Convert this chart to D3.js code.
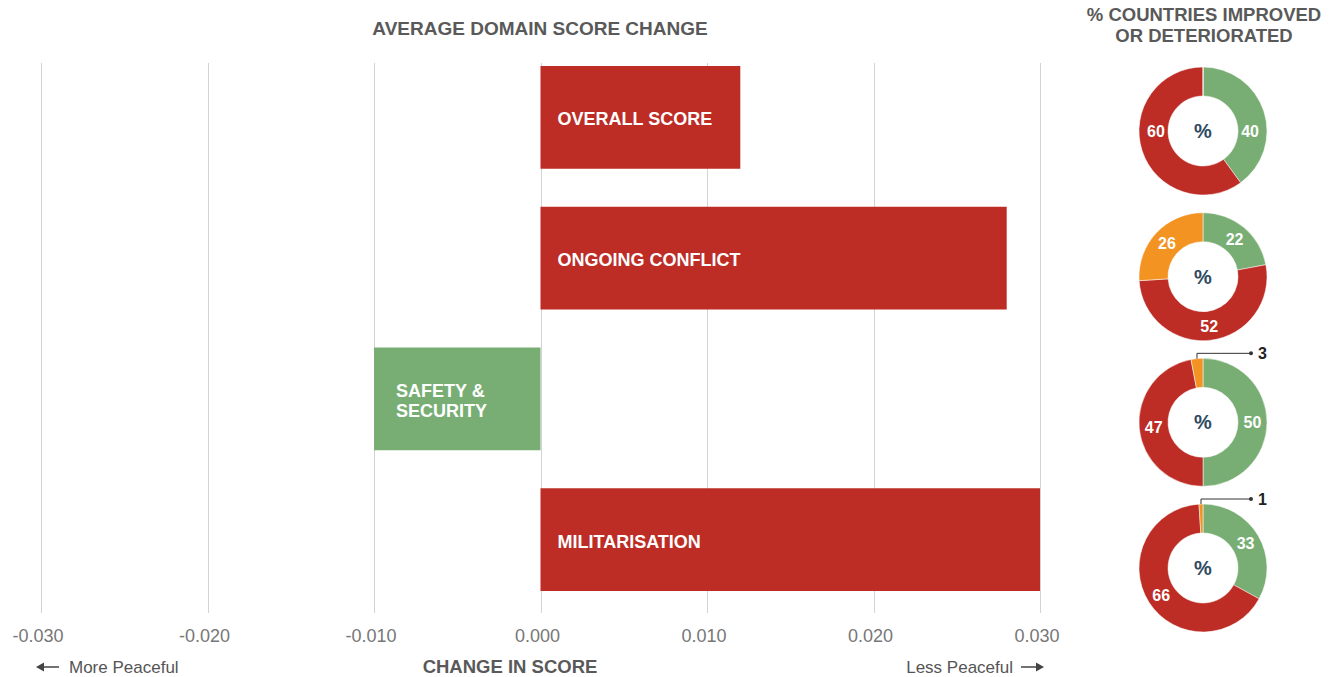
<!DOCTYPE html>
<html>
<head>
<meta charset="utf-8">
<script src="https://cdn.jsdelivr.net/npm/d3@7"></script>
<style>
	body { margin: 0; background: #fff; }
	svg { display: block; font-family: "Liberation Sans", Arial, sans-serif; }
</style>
</head>
<body>
<div id="viz"></div>
<script>
// domains, top to bottom
var domains = ['OVERALL SCORE', 'ONGOING CONFLICT', 'SAFETY & SECURITY', 'MILITARISATION'];
var domainLines = [['OVERALL SCORE'], ['ONGOING CONFLICT'], ['SAFETY &', 'SECURITY'], ['MILITARISATION']];
var scoreChange = [0.012, 0.028, -0.010, 0.030];

// % countries improved / deteriorated / no change
var improved = [40, 22, 50, 33];
var deteriorated = [60, 52, 47, 66];
var noChange = [0, 26, 3, 1];

var xTicks = [-0.03, -0.02, -0.01, 0, 0.01, 0.02, 0.03];

var w = 1334,
	h = 677,
	red = '#bd2c25',
	green = '#78ae74',
	orange = '#f39322',
	grey = '#595959';

var svg = d3.select('#viz')
	.append('svg')
	.attr('width', w)
	.attr('height', h);

var x = d3.scaleLinear().domain([-0.03, 0.03]).range([41, 1040]);
var y = d3.scaleBand().domain(domains).range([66, 591]).paddingInner(0.27);

// grid
svg.append('g')
	.selectAll('line')
	.data(xTicks)
	.enter().append('line')
	.attr('x1', function (d) { return Math.round(x(d)) + 0.5; })
	.attr('x2', function (d) { return Math.round(x(d)) + 0.5; })
	.attr('y1', 63)
	.attr('y2', 613)
	.style('stroke', '#d3d3d3')
	.style('stroke-width', 1);

// tick labels (plain hyphen, not unicode minus)
var fmt = d3.format('.3f');
svg.append('g')
	.selectAll('text')
	.data(xTicks)
	.enter().append('text')
	.attr('x', function (d) { return x(d) - 3; })
	.attr('y', 642)
	.attr('text-anchor', 'middle')
	.style('font-size', '18px')
	.style('fill', '#777')
	.text(function (d) { return fmt(d).replace('\u2212', '-'); });

// bars
var bars = svg.append('g')
	.selectAll('g')
	.data(domains)
	.enter().append('g');

bars.append('rect')
	.attr('x', function (d, i) { return x(Math.min(0, scoreChange[i])); })
	.attr('y', function (d) { return y(d); })
	.attr('width', function (d, i) { return Math.abs(x(scoreChange[i]) - x(0)); })
	.attr('height', y.bandwidth())
	.style('fill', function (d, i) { return scoreChange[i] < 0 ? green : red; });

bars.append('text')
	.attr('x', function (d, i) { return x(Math.min(0, scoreChange[i])) + (scoreChange[i] < 0 ? 22 : 17); })
	.attr('y', function (d, i) {
		return y(d) + y.bandwidth() / 2 + 8 - (domainLines[i].length - 1) * 10;
	})
	.style('fill', '#fff')
	.style('font-size', '18px')
	.style('font-weight', 'bold')
	.selectAll('tspan')
	.data(function (d, i) { return domainLines[i]; })
	.enter().append('tspan')
	.attr('x', function () { return d3.select(this.parentNode).attr('x'); })
	.attr('dy', function (d, i) { return i ? 20 : 0; })
	.text(String);

// titles
svg.append('text')
	.attr('x', 540)
	.attr('y', 35)
	.attr('text-anchor', 'middle')
	.style('font-size', '19px')
	.style('font-weight', 'bold')
	.style('fill', grey)
	.text('AVERAGE DOMAIN SCORE CHANGE');

svg.append('text')
	.attr('x', 1204)
	.attr('y', 21)
	.attr('text-anchor', 'middle')
	.style('font-size', '18.5px')
	.style('font-weight', 'bold')
	.style('fill', grey)
	.selectAll('tspan')
	.data(['% COUNTRIES IMPROVED', 'OR DETERIORATED'])
	.enter().append('tspan')
	.attr('x', 1204)
	.attr('dy', function (d, i) { return i ? 21 : 0; })
	.text(String);

// bottom labels
svg.append('text')
	.attr('x', 510)
	.attr('y', 673)
	.attr('text-anchor', 'middle')
	.style('font-size', '18.5px')
	.style('font-weight', 'bold')
	.style('fill', grey)
	.text('CHANGE IN SCORE');

svg.append('text')
	.attr('x', 69)
	.attr('y', 673)
	.style('font-size', '17px')
	.style('fill', '#555')
	.text('More Peaceful');

svg.append('text')
	.attr('x', 1013)
	.attr('y', 673)
	.attr('text-anchor', 'end')
	.style('font-size', '17px')
	.style('fill', '#555')
	.text('Less Peaceful');

// direction arrows
[[59, 36], [1021, 1044]].forEach(function (a) {
	var dir = a[1] > a[0] ? 1 : -1;
	svg.append('path')
		.attr('d', 'M' + a[0] + ',667H' + (a[1] - dir * 4))
		.style('stroke', '#444')
		.style('stroke-width', 1.5);
	svg.append('path')
		.attr('d', 'M' + a[1] + ',667L' + (a[1] - dir * 8) + ',662.5L' + (a[1] - dir * 8) + ',671.5Z')
		.style('fill', '#444');
});

// donuts
var dy = d3.scalePoint().domain(domains).range([131, 568]);
var outerR = 64, innerR = 35;
var arc = d3.arc().innerRadius(innerR).outerRadius(outerR);
var pie = d3.pie().sort(null).value(function (d) { return d.v; });
var cx = 1203;

domains.forEach(function (dom, k) {
	var parts = [
		{v: improved[k], c: green},
		{v: deteriorated[k], c: red},
		{v: noChange[k], c: orange}
	];
	var g = svg.append('g')
		.attr('transform', 'translate(' + cx + ',' + dy(dom) + ')');
	var arcs = pie(parts);

	g.selectAll('path')
		.data(arcs)
		.enter().append('path')
		.attr('d', arc)
		.style('fill', function (d) { return d.data.c; })
		.style('stroke', '#fff')
		.style('stroke-width', 0.5);

	g.append('text')
		.attr('text-anchor', 'middle')
		.attr('y', 7)
		.style('font-size', '20px')
		.style('font-weight', 'bold')
		.style('fill', '#2e4a5f')
		.text('%');

	arcs.forEach(function (a) {
		if (a.data.v === 0) return;
		if (a.data.v >= 10) {
			var c = arc.centroid(a);
			// two-part rings put their labels level with the hole
			if (noChange[k] === 0) c[1] = 0;
			g.append('text')
				.attr('x', c[0])
				.attr('y', c[1] + 6)
				.attr('text-anchor', 'middle')
				.style('font-size', '16px')
				.style('font-weight', 'bold')
				.style('fill', '#fff')
				.text(a.data.v);
		} else {
			// small slice: leader line
			var mid = (a.startAngle + a.endAngle) / 2;
			var sx = Math.sin(mid) * outerR;
			var sy = -Math.cos(mid) * outerR;
			var ty = -outerR - 5;
			g.append('path')
				.attr('d', 'M' + sx + ',' + sy + 'V' + ty + 'H' + 48)
				.style('fill', 'none')
				.style('stroke', '#333')
				.style('stroke-width', 1);
			g.append('circle')
				.attr('cx', 48)
				.attr('cy', ty)
				.attr('r', 2)
				.style('fill', '#333');
			g.append('text')
				.attr('x', 55)
				.attr('y', ty + 6)
				.style('font-size', '16px')
				.style('font-weight', 'bold')
				.style('fill', '#222')
				.text(a.data.v);
		}
	});
});
</script>
</body>
</html>
